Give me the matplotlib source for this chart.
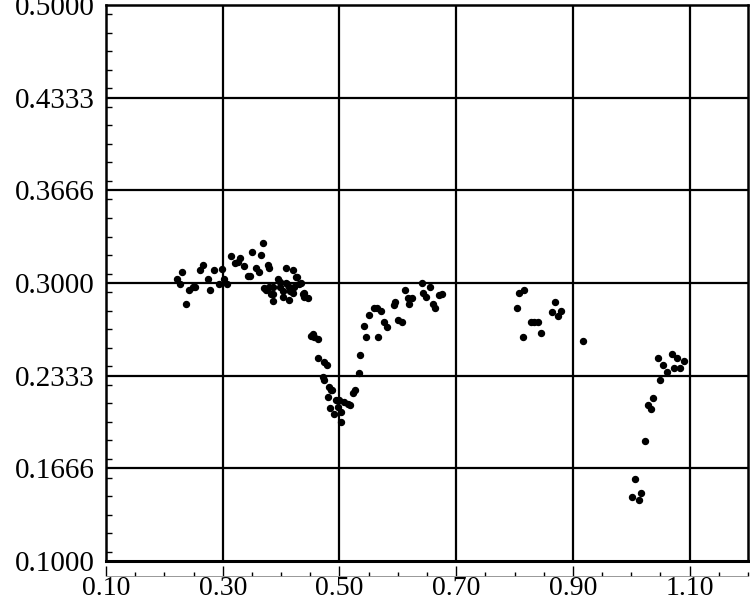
import matplotlib
matplotlib.use('Agg')
import matplotlib.pyplot as plt
from matplotlib.ticker import MultipleLocator

plt.rcParams['font.family'] = ['Liberation Serif', 'DejaVu Serif']

# points, grouped by stretch of the curve
x_left = [0.221, 0.226, 0.231, 0.237, 0.242, 0.249, 0.252, 0.261, 0.266, 0.274,
          0.279, 0.285, 0.293, 0.298, 0.302, 0.307, 0.315, 0.321, 0.326, 0.329,
          0.336, 0.343, 0.346, 0.350, 0.357, 0.362, 0.365, 0.369, 0.377, 0.379,
          0.408, 0.420, 0.425, 0.428, 0.394, 0.398, 0.370, 0.374, 0.379, 0.386,
          0.399, 0.408, 0.411, 0.413, 0.423, 0.430, 0.435, 0.382, 0.387, 0.403,
          0.416, 0.420, 0.437, 0.440, 0.403, 0.413, 0.387, 0.440, 0.446]
y_left = [0.303, 0.299, 0.308, 0.285, 0.295, 0.297, 0.297, 0.309, 0.313, 0.303,
          0.295, 0.309, 0.299, 0.310, 0.303, 0.299, 0.319, 0.314, 0.315, 0.318,
          0.312, 0.305, 0.305, 0.322, 0.311, 0.308, 0.320, 0.329, 0.313, 0.311,
          0.311, 0.309, 0.304, 0.304, 0.303, 0.301, 0.296, 0.295, 0.297, 0.297,
          0.297, 0.300, 0.299, 0.297, 0.297, 0.299, 0.300, 0.292, 0.292, 0.294,
          0.294, 0.293, 0.292, 0.293, 0.290, 0.288, 0.287, 0.290, 0.289]

x_dip = [0.451, 0.454, 0.456, 0.463, 0.464, 0.473, 0.478, 0.471, 0.473, 0.482,
         0.485, 0.488, 0.480, 0.494, 0.499, 0.483, 0.497, 0.507, 0.514, 0.518,
         0.490, 0.502, 0.502, 0.523, 0.526, 0.533, 0.536, 0.545, 0.566, 0.542,
         0.550, 0.559, 0.564, 0.571, 0.576, 0.581, 0.593, 0.596, 0.601, 0.608,
         0.612, 0.617, 0.625, 0.620, 0.641, 0.655, 0.644, 0.649, 0.670, 0.675,
         0.660, 0.663]
y_dip = [0.262, 0.263, 0.261, 0.260, 0.246, 0.243, 0.241, 0.232, 0.230, 0.225,
         0.223, 0.223, 0.218, 0.216, 0.216, 0.210, 0.211, 0.214, 0.213, 0.212,
         0.206, 0.207, 0.200, 0.221, 0.223, 0.235, 0.248, 0.261, 0.261, 0.269,
         0.277, 0.282, 0.282, 0.280, 0.272, 0.268, 0.284, 0.286, 0.273, 0.272,
         0.295, 0.289, 0.289, 0.285, 0.300, 0.297, 0.293, 0.290, 0.291, 0.292,
         0.285, 0.282]

x_mid = [0.816, 0.807, 0.804, 0.869, 0.879, 0.864, 0.874, 0.828, 0.833, 0.840,
         0.845, 0.814, 0.918]
y_mid = [0.295, 0.293, 0.282, 0.286, 0.280, 0.279, 0.276, 0.272, 0.272, 0.272,
         0.264, 0.261, 0.258]

x_right = [1.069, 1.045, 1.079, 1.090, 1.055, 1.073, 1.083, 1.061, 1.050, 1.038,
           1.028, 1.033, 1.023, 1.006, 1.016, 1.002, 1.013]
y_right = [0.249, 0.246, 0.246, 0.244, 0.241, 0.239, 0.239, 0.236, 0.230, 0.217,
           0.212, 0.209, 0.186, 0.159, 0.149, 0.146, 0.144]

xticks = [0.10, 0.30, 0.50, 0.70, 0.90, 1.10]
xlabels = ['0.10', '0.30', '0.50', '0.70', '0.90', '1.10']
yticks = [0.1, 0.1666, 0.2333, 0.3, 0.3666, 0.4333, 0.5]
ylabels = ['0.1000', '0.1666', '0.2333', '0.3000', '0.3666', '0.4333', '0.5000']

fig = plt.figure(figsize=(7.5, 6), dpi=100)
ax = fig.add_axes([0.1413, 0.065, 0.856, 0.927])

for xs, ys in [(x_left, y_left), (x_dip, y_dip), (x_mid, y_mid), (x_right, y_right)]:
    ax.plot(xs, ys, linestyle='none', marker='o', markersize=4.3,
            color='black', zorder=3)

ax.set_xlim(0.1, 1.2)
ax.set_ylim(0.1, 0.5)

# grid lines at every labelled value
for v in xticks[1:]:
    ax.axvline(v, color='black', linewidth=1.6, zorder=1)
for v in yticks[1:-1]:
    ax.axhline(v, color='black', linewidth=1.6, zorder=1)

# frame, the x ticks sit on a thin line a little under it
ax.axhline(0.1, color='black', linewidth=2.2, clip_on=False, zorder=2)
ax.spines['bottom'].set_position(('outward', 11))
ax.spines['bottom'].set_linewidth(0.6)
ax.spines['bottom'].set_color('#888888')
for s in ['left', 'top', 'right']:
    ax.spines[s].set_linewidth(1.8)

ax.set_xticks(xticks)
ax.set_xticklabels(xlabels, fontsize=20)
ax.xaxis.set_minor_locator(MultipleLocator(0.05))
ax.tick_params(axis='x', which='major', direction='in', length=7, width=1.0,
               pad=0, color='black')
ax.tick_params(axis='x', which='minor', direction='in', length=3, width=1.0,
               color='black')

ax.set_yticks(yticks)
ax.set_yticklabels(ylabels, fontsize=21)
ax.yaxis.set_minor_locator(MultipleLocator(0.0666667 / 5))
ax.tick_params(axis='y', which='major', direction='in', length=0, pad=8)
ax.tick_params(axis='y', which='minor', direction='in', length=4, width=1.0)

fig.savefig('out.png', dpi=100)
